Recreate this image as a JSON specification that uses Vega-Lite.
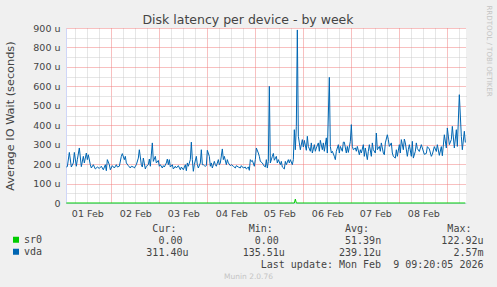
{
  "$schema": "https://vega.github.io/schema/vega-lite/v6.json",
  "background": "#f0f0f0",
  "autosize": {"type": "none"},
  "padding": {"left": 66, "top": 28, "right": 31, "bottom": 84},
  "width": 400,
  "height": 175,
  "view": {"fill": "#ffffff", "stroke": null},
  "config": {"font": "DejaVu Sans"},
  "title": {"text": "Disk latency per device - by week", "font": "DejaVu Sans", "fontSize": 12.5, "fontWeight": "normal", "color": "#444444", "anchor": "middle", "frame": "group", "dx": -18, "dy": 24.5, "offset": 3},
  "data": {"values": [
      {"time":"2026-02-01T01:30","device":"sr0","wait_us":0},
      {"time":"2026-02-05T19:30","device":"sr0","wait_us":0},
      {"time":"2026-02-05T20:00","device":"sr0","wait_us":20},
      {"time":"2026-02-05T20:30","device":"sr0","wait_us":0},
      {"time":"2026-02-09T09:00","device":"sr0","wait_us":0},
      {"time":"2026-02-01T01:30","device":"vda","wait_us":185},
      {"time":"2026-02-01T02:00","device":"vda","wait_us":187},
      {"time":"2026-02-01T03:00","device":"vda","wait_us":260},
      {"time":"2026-02-01T04:00","device":"vda","wait_us":185},
      {"time":"2026-02-01T05:00","device":"vda","wait_us":206},
      {"time":"2026-02-01T05:30","device":"vda","wait_us":260},
      {"time":"2026-02-01T06:30","device":"vda","wait_us":189},
      {"time":"2026-02-01T07:00","device":"vda","wait_us":223},
      {"time":"2026-02-01T08:00","device":"vda","wait_us":283},
      {"time":"2026-02-01T09:00","device":"vda","wait_us":187},
      {"time":"2026-02-01T10:00","device":"vda","wait_us":240},
      {"time":"2026-02-01T10:30","device":"vda","wait_us":206},
      {"time":"2026-02-01T11:30","device":"vda","wait_us":257},
      {"time":"2026-02-01T12:00","device":"vda","wait_us":223},
      {"time":"2026-02-01T12:30","device":"vda","wait_us":248},
      {"time":"2026-02-01T13:30","device":"vda","wait_us":197},
      {"time":"2026-02-01T14:00","device":"vda","wait_us":180},
      {"time":"2026-02-01T15:00","device":"vda","wait_us":197},
      {"time":"2026-02-01T16:00","device":"vda","wait_us":175},
      {"time":"2026-02-01T17:00","device":"vda","wait_us":185},
      {"time":"2026-02-01T18:00","device":"vda","wait_us":178},
      {"time":"2026-02-01T19:00","device":"vda","wait_us":189},
      {"time":"2026-02-01T20:00","device":"vda","wait_us":171},
      {"time":"2026-02-01T21:00","device":"vda","wait_us":197},
      {"time":"2026-02-01T21:30","device":"vda","wait_us":166},
      {"time":"2026-02-01T22:00","device":"vda","wait_us":223},
      {"time":"2026-02-01T23:00","device":"vda","wait_us":197},
      {"time":"2026-02-01T23:30","device":"vda","wait_us":171},
      {"time":"2026-02-02T00:30","device":"vda","wait_us":192},
      {"time":"2026-02-02T01:30","device":"vda","wait_us":180},
      {"time":"2026-02-02T02:30","device":"vda","wait_us":197},
      {"time":"2026-02-02T03:00","device":"vda","wait_us":185},
      {"time":"2026-02-02T04:00","device":"vda","wait_us":189},
      {"time":"2026-02-02T05:00","device":"vda","wait_us":240},
      {"time":"2026-02-02T05:30","device":"vda","wait_us":254},
      {"time":"2026-02-02T06:30","device":"vda","wait_us":223},
      {"time":"2026-02-02T07:00","device":"vda","wait_us":240},
      {"time":"2026-02-02T07:30","device":"vda","wait_us":206},
      {"time":"2026-02-02T08:30","device":"vda","wait_us":192},
      {"time":"2026-02-02T09:30","device":"vda","wait_us":180},
      {"time":"2026-02-02T10:00","device":"vda","wait_us":189},
      {"time":"2026-02-02T11:00","device":"vda","wait_us":185},
      {"time":"2026-02-02T11:30","device":"vda","wait_us":180},
      {"time":"2026-02-02T12:30","device":"vda","wait_us":197},
      {"time":"2026-02-02T13:30","device":"vda","wait_us":231},
      {"time":"2026-02-02T14:00","device":"vda","wait_us":274},
      {"time":"2026-02-02T15:00","device":"vda","wait_us":197},
      {"time":"2026-02-02T15:30","device":"vda","wait_us":185},
      {"time":"2026-02-02T16:00","device":"vda","wait_us":231},
      {"time":"2026-02-02T17:00","device":"vda","wait_us":175},
      {"time":"2026-02-02T17:30","device":"vda","wait_us":189},
      {"time":"2026-02-02T18:30","device":"vda","wait_us":197},
      {"time":"2026-02-02T19:00","device":"vda","wait_us":226},
      {"time":"2026-02-02T19:30","device":"vda","wait_us":189},
      {"time":"2026-02-02T20:30","device":"vda","wait_us":309},
      {"time":"2026-02-02T21:00","device":"vda","wait_us":214},
      {"time":"2026-02-02T22:00","device":"vda","wait_us":240},
      {"time":"2026-02-02T22:30","device":"vda","wait_us":206},
      {"time":"2026-02-02T23:30","device":"vda","wait_us":219},
      {"time":"2026-02-03T00:00","device":"vda","wait_us":189},
      {"time":"2026-02-03T00:30","device":"vda","wait_us":197},
      {"time":"2026-02-03T01:30","device":"vda","wait_us":180},
      {"time":"2026-02-03T02:00","device":"vda","wait_us":192},
      {"time":"2026-02-03T02:30","device":"vda","wait_us":185},
      {"time":"2026-02-03T03:30","device":"vda","wait_us":206},
      {"time":"2026-02-03T04:00","device":"vda","wait_us":226},
      {"time":"2026-02-03T04:30","device":"vda","wait_us":197},
      {"time":"2026-02-03T05:00","device":"vda","wait_us":223},
      {"time":"2026-02-03T05:30","device":"vda","wait_us":185},
      {"time":"2026-02-03T06:30","device":"vda","wait_us":197},
      {"time":"2026-02-03T07:00","device":"vda","wait_us":175},
      {"time":"2026-02-03T08:00","device":"vda","wait_us":189},
      {"time":"2026-02-03T08:30","device":"vda","wait_us":180},
      {"time":"2026-02-03T09:30","device":"vda","wait_us":192},
      {"time":"2026-02-03T10:30","device":"vda","wait_us":171},
      {"time":"2026-02-03T11:00","device":"vda","wait_us":185},
      {"time":"2026-02-03T12:00","device":"vda","wait_us":171},
      {"time":"2026-02-03T13:00","device":"vda","wait_us":197},
      {"time":"2026-02-03T13:30","device":"vda","wait_us":166},
      {"time":"2026-02-03T14:00","device":"vda","wait_us":206},
      {"time":"2026-02-03T14:30","device":"vda","wait_us":189},
      {"time":"2026-02-03T15:30","device":"vda","wait_us":223},
      {"time":"2026-02-03T16:00","device":"vda","wait_us":313},
      {"time":"2026-02-03T16:30","device":"vda","wait_us":223},
      {"time":"2026-02-03T17:00","device":"vda","wait_us":163},
      {"time":"2026-02-03T17:30","device":"vda","wait_us":197},
      {"time":"2026-02-03T18:30","device":"vda","wait_us":240},
      {"time":"2026-02-03T19:00","device":"vda","wait_us":197},
      {"time":"2026-02-03T19:30","device":"vda","wait_us":180},
      {"time":"2026-02-03T20:30","device":"vda","wait_us":206},
      {"time":"2026-02-03T21:00","device":"vda","wait_us":274},
      {"time":"2026-02-03T21:30","device":"vda","wait_us":197},
      {"time":"2026-02-03T22:00","device":"vda","wait_us":197},
      {"time":"2026-02-03T22:30","device":"vda","wait_us":192},
      {"time":"2026-02-03T23:00","device":"vda","wait_us":189},
      {"time":"2026-02-03T23:30","device":"vda","wait_us":192},
      {"time":"2026-02-04T00:00","device":"vda","wait_us":271},
      {"time":"2026-02-04T01:00","device":"vda","wait_us":240},
      {"time":"2026-02-04T01:30","device":"vda","wait_us":189},
      {"time":"2026-02-04T02:00","device":"vda","wait_us":206},
      {"time":"2026-02-04T02:30","device":"vda","wait_us":180},
      {"time":"2026-02-04T03:30","device":"vda","wait_us":214},
      {"time":"2026-02-04T04:00","device":"vda","wait_us":197},
      {"time":"2026-02-04T04:30","device":"vda","wait_us":189},
      {"time":"2026-02-04T05:30","device":"vda","wait_us":223},
      {"time":"2026-02-04T06:00","device":"vda","wait_us":197},
      {"time":"2026-02-04T06:30","device":"vda","wait_us":206},
      {"time":"2026-02-04T07:30","device":"vda","wait_us":278},
      {"time":"2026-02-04T08:00","device":"vda","wait_us":223},
      {"time":"2026-02-04T08:30","device":"vda","wait_us":240},
      {"time":"2026-02-04T09:30","device":"vda","wait_us":197},
      {"time":"2026-02-04T10:00","device":"vda","wait_us":223},
      {"time":"2026-02-04T10:30","device":"vda","wait_us":206},
      {"time":"2026-02-04T11:30","device":"vda","wait_us":192},
      {"time":"2026-02-04T12:00","device":"vda","wait_us":197},
      {"time":"2026-02-04T13:00","device":"vda","wait_us":189},
      {"time":"2026-02-04T14:00","device":"vda","wait_us":180},
      {"time":"2026-02-04T14:30","device":"vda","wait_us":192},
      {"time":"2026-02-04T15:30","device":"vda","wait_us":185},
      {"time":"2026-02-04T16:30","device":"vda","wait_us":180},
      {"time":"2026-02-04T17:00","device":"vda","wait_us":192},
      {"time":"2026-02-04T18:00","device":"vda","wait_us":180},
      {"time":"2026-02-04T19:00","device":"vda","wait_us":185},
      {"time":"2026-02-04T19:30","device":"vda","wait_us":175},
      {"time":"2026-02-04T20:30","device":"vda","wait_us":185},
      {"time":"2026-02-04T21:00","device":"vda","wait_us":168},
      {"time":"2026-02-04T21:30","device":"vda","wait_us":223},
      {"time":"2026-02-04T22:00","device":"vda","wait_us":214},
      {"time":"2026-02-04T22:30","device":"vda","wait_us":219},
      {"time":"2026-02-04T23:30","device":"vda","wait_us":189},
      {"time":"2026-02-05T00:00","device":"vda","wait_us":223},
      {"time":"2026-02-05T00:30","device":"vda","wait_us":283},
      {"time":"2026-02-05T01:30","device":"vda","wait_us":257},
      {"time":"2026-02-05T02:00","device":"vda","wait_us":240},
      {"time":"2026-02-05T02:30","device":"vda","wait_us":214},
      {"time":"2026-02-05T03:30","device":"vda","wait_us":206},
      {"time":"2026-02-05T04:00","device":"vda","wait_us":197},
      {"time":"2026-02-05T04:30","device":"vda","wait_us":189},
      {"time":"2026-02-05T05:00","device":"vda","wait_us":185},
      {"time":"2026-02-05T05:30","device":"vda","wait_us":223},
      {"time":"2026-02-05T06:00","device":"vda","wait_us":180},
      {"time":"2026-02-05T06:30","device":"vda","wait_us":214},
      {"time":"2026-02-05T07:00","device":"vda","wait_us":600},
      {"time":"2026-02-05T07:30","device":"vda","wait_us":206},
      {"time":"2026-02-05T08:30","device":"vda","wait_us":240},
      {"time":"2026-02-05T09:00","device":"vda","wait_us":255},
      {"time":"2026-02-05T09:30","device":"vda","wait_us":220},
      {"time":"2026-02-05T10:30","device":"vda","wait_us":240},
      {"time":"2026-02-05T11:00","device":"vda","wait_us":206},
      {"time":"2026-02-05T11:30","device":"vda","wait_us":223},
      {"time":"2026-02-05T12:30","device":"vda","wait_us":197},
      {"time":"2026-02-05T13:00","device":"vda","wait_us":214},
      {"time":"2026-02-05T13:30","device":"vda","wait_us":185},
      {"time":"2026-02-05T14:30","device":"vda","wait_us":175},
      {"time":"2026-02-05T15:00","device":"vda","wait_us":214},
      {"time":"2026-02-05T15:30","device":"vda","wait_us":197},
      {"time":"2026-02-05T16:30","device":"vda","wait_us":223},
      {"time":"2026-02-05T17:00","device":"vda","wait_us":206},
      {"time":"2026-02-05T17:30","device":"vda","wait_us":223},
      {"time":"2026-02-05T18:30","device":"vda","wait_us":197},
      {"time":"2026-02-05T19:00","device":"vda","wait_us":223},
      {"time":"2026-02-05T19:30","device":"vda","wait_us":377},
      {"time":"2026-02-05T20:00","device":"vda","wait_us":274},
      {"time":"2026-02-05T20:30","device":"vda","wait_us":394},
      {"time":"2026-02-05T21:00","device":"vda","wait_us":890},
      {"time":"2026-02-05T21:30","device":"vda","wait_us":343},
      {"time":"2026-02-05T22:00","device":"vda","wait_us":309},
      {"time":"2026-02-05T22:30","device":"vda","wait_us":274},
      {"time":"2026-02-05T23:30","device":"vda","wait_us":326},
      {"time":"2026-02-06T00:00","device":"vda","wait_us":288},
      {"time":"2026-02-06T00:30","device":"vda","wait_us":322},
      {"time":"2026-02-06T01:30","device":"vda","wait_us":271},
      {"time":"2026-02-06T02:00","device":"vda","wait_us":343},
      {"time":"2026-02-06T02:30","device":"vda","wait_us":291},
      {"time":"2026-02-06T03:30","device":"vda","wait_us":266},
      {"time":"2026-02-06T04:00","device":"vda","wait_us":309},
      {"time":"2026-02-06T04:30","device":"vda","wait_us":257},
      {"time":"2026-02-06T05:30","device":"vda","wait_us":300},
      {"time":"2026-02-06T06:00","device":"vda","wait_us":266},
      {"time":"2026-02-06T06:30","device":"vda","wait_us":283},
      {"time":"2026-02-06T07:30","device":"vda","wait_us":309},
      {"time":"2026-02-06T08:00","device":"vda","wait_us":266},
      {"time":"2026-02-06T08:30","device":"vda","wait_us":322},
      {"time":"2026-02-06T09:30","device":"vda","wait_us":274},
      {"time":"2026-02-06T10:00","device":"vda","wait_us":309},
      {"time":"2026-02-06T10:30","device":"vda","wait_us":266},
      {"time":"2026-02-06T11:30","device":"vda","wait_us":335},
      {"time":"2026-02-06T12:00","device":"vda","wait_us":257},
      {"time":"2026-02-06T13:00","device":"vda","wait_us":646},
      {"time":"2026-02-06T13:30","device":"vda","wait_us":291},
      {"time":"2026-02-06T14:00","device":"vda","wait_us":257},
      {"time":"2026-02-06T14:30","device":"vda","wait_us":266},
      {"time":"2026-02-06T15:30","device":"vda","wait_us":240},
      {"time":"2026-02-06T16:00","device":"vda","wait_us":223},
      {"time":"2026-02-06T16:30","device":"vda","wait_us":266},
      {"time":"2026-02-06T17:30","device":"vda","wait_us":300},
      {"time":"2026-02-06T18:00","device":"vda","wait_us":257},
      {"time":"2026-02-06T18:30","device":"vda","wait_us":291},
      {"time":"2026-02-06T19:30","device":"vda","wait_us":266},
      {"time":"2026-02-06T20:00","device":"vda","wait_us":313},
      {"time":"2026-02-06T20:30","device":"vda","wait_us":313},
      {"time":"2026-02-06T21:30","device":"vda","wait_us":257},
      {"time":"2026-02-06T22:00","device":"vda","wait_us":291},
      {"time":"2026-02-06T22:30","device":"vda","wait_us":260},
      {"time":"2026-02-06T23:30","device":"vda","wait_us":317},
      {"time":"2026-02-07T00:00","device":"vda","wait_us":403},
      {"time":"2026-02-07T00:30","device":"vda","wait_us":291},
      {"time":"2026-02-07T01:00","device":"vda","wait_us":274},
      {"time":"2026-02-07T02:00","device":"vda","wait_us":283},
      {"time":"2026-02-07T02:30","device":"vda","wait_us":266},
      {"time":"2026-02-07T03:00","device":"vda","wait_us":291},
      {"time":"2026-02-07T04:00","device":"vda","wait_us":248},
      {"time":"2026-02-07T04:30","device":"vda","wait_us":274},
      {"time":"2026-02-07T05:00","device":"vda","wait_us":257},
      {"time":"2026-02-07T06:00","device":"vda","wait_us":300},
      {"time":"2026-02-07T06:30","device":"vda","wait_us":240},
      {"time":"2026-02-07T07:00","device":"vda","wait_us":283},
      {"time":"2026-02-07T08:00","device":"vda","wait_us":223},
      {"time":"2026-02-07T08:30","device":"vda","wait_us":266},
      {"time":"2026-02-07T09:00","device":"vda","wait_us":300},
      {"time":"2026-02-07T10:00","device":"vda","wait_us":240},
      {"time":"2026-02-07T10:30","device":"vda","wait_us":309},
      {"time":"2026-02-07T11:00","device":"vda","wait_us":274},
      {"time":"2026-02-07T12:00","device":"vda","wait_us":257},
      {"time":"2026-02-07T12:30","device":"vda","wait_us":360},
      {"time":"2026-02-07T13:00","device":"vda","wait_us":274},
      {"time":"2026-02-07T14:00","device":"vda","wait_us":291},
      {"time":"2026-02-07T14:30","device":"vda","wait_us":266},
      {"time":"2026-02-07T15:00","device":"vda","wait_us":309},
      {"time":"2026-02-07T16:00","device":"vda","wait_us":257},
      {"time":"2026-02-07T16:30","device":"vda","wait_us":248},
      {"time":"2026-02-07T17:00","device":"vda","wait_us":309},
      {"time":"2026-02-07T18:00","device":"vda","wait_us":351},
      {"time":"2026-02-07T18:30","device":"vda","wait_us":326},
      {"time":"2026-02-07T19:00","device":"vda","wait_us":291},
      {"time":"2026-02-07T20:00","device":"vda","wait_us":309},
      {"time":"2026-02-07T20:30","device":"vda","wait_us":257},
      {"time":"2026-02-07T21:00","device":"vda","wait_us":240},
      {"time":"2026-02-07T22:00","device":"vda","wait_us":231},
      {"time":"2026-02-07T22:30","device":"vda","wait_us":274},
      {"time":"2026-02-07T23:00","device":"vda","wait_us":240},
      {"time":"2026-02-08T00:00","device":"vda","wait_us":300},
      {"time":"2026-02-08T00:30","device":"vda","wait_us":257},
      {"time":"2026-02-08T01:00","device":"vda","wait_us":326},
      {"time":"2026-02-08T02:00","device":"vda","wait_us":274},
      {"time":"2026-02-08T02:30","device":"vda","wait_us":329},
      {"time":"2026-02-08T03:00","device":"vda","wait_us":309},
      {"time":"2026-02-08T04:00","device":"vda","wait_us":240},
      {"time":"2026-02-08T04:30","device":"vda","wait_us":274},
      {"time":"2026-02-08T05:00","device":"vda","wait_us":300},
      {"time":"2026-02-08T06:00","device":"vda","wait_us":240},
      {"time":"2026-02-08T06:30","device":"vda","wait_us":317},
      {"time":"2026-02-08T07:00","device":"vda","wait_us":231},
      {"time":"2026-02-08T08:00","device":"vda","wait_us":266},
      {"time":"2026-02-08T08:30","device":"vda","wait_us":309},
      {"time":"2026-02-08T09:00","device":"vda","wait_us":280},
      {"time":"2026-02-08T10:00","device":"vda","wait_us":265},
      {"time":"2026-02-08T11:00","device":"vda","wait_us":300},
      {"time":"2026-02-08T11:30","device":"vda","wait_us":283},
      {"time":"2026-02-08T12:30","device":"vda","wait_us":250},
      {"time":"2026-02-08T13:30","device":"vda","wait_us":255},
      {"time":"2026-02-08T14:00","device":"vda","wait_us":290},
      {"time":"2026-02-08T15:00","device":"vda","wait_us":278},
      {"time":"2026-02-08T16:00","device":"vda","wait_us":240},
      {"time":"2026-02-08T16:30","device":"vda","wait_us":250},
      {"time":"2026-02-08T17:30","device":"vda","wait_us":290},
      {"time":"2026-02-08T18:30","device":"vda","wait_us":265},
      {"time":"2026-02-08T19:00","device":"vda","wait_us":300},
      {"time":"2026-02-08T20:00","device":"vda","wait_us":245},
      {"time":"2026-02-08T21:00","device":"vda","wait_us":290},
      {"time":"2026-02-08T21:30","device":"vda","wait_us":243},
      {"time":"2026-02-08T22:30","device":"vda","wait_us":351},
      {"time":"2026-02-08T23:30","device":"vda","wait_us":283},
      {"time":"2026-02-09T00:00","device":"vda","wait_us":386},
      {"time":"2026-02-09T01:00","device":"vda","wait_us":300},
      {"time":"2026-02-09T02:00","device":"vda","wait_us":326},
      {"time":"2026-02-09T02:30","device":"vda","wait_us":394},
      {"time":"2026-02-09T03:30","device":"vda","wait_us":283},
      {"time":"2026-02-09T04:30","device":"vda","wait_us":377},
      {"time":"2026-02-09T05:00","device":"vda","wait_us":291},
      {"time":"2026-02-09T06:00","device":"vda","wait_us":557},
      {"time":"2026-02-09T07:00","device":"vda","wait_us":343},
      {"time":"2026-02-09T07:30","device":"vda","wait_us":274},
      {"time":"2026-02-09T08:30","device":"vda","wait_us":369},
      {"time":"2026-02-09T09:00","device":"vda","wait_us":311}
  ]},
  "layer": [
    {
      "transform": [{"filter": "datum.device === 'sr0'"}],
      "mark": {"type": "line", "strokeWidth": 1},
      "encoding": {
        "x": {"field": "time", "type": "temporal",
          "scale": {"domain": [{"year": 2026, "month": 2, "date": 1, "hours": 1, "minutes": 20}, {"year": 2026, "month": 2, "date": 9, "hours": 9, "minutes": 20}]},
          "axis": {"orient": "bottom", "labels": false, "ticks": false, "domain": false, "grid": true, "gridColor": "#cccccc", "gridDash": [1, 1],
            "values": [
              {"year": 2026, "month": 2, "date": 1, "hours": 6}, {"year": 2026, "month": 2, "date": 1, "hours": 12}, {"year": 2026, "month": 2, "date": 1, "hours": 18},
              {"year": 2026, "month": 2, "date": 2, "hours": 6}, {"year": 2026, "month": 2, "date": 2, "hours": 12}, {"year": 2026, "month": 2, "date": 2, "hours": 18},
              {"year": 2026, "month": 2, "date": 3, "hours": 6}, {"year": 2026, "month": 2, "date": 3, "hours": 12}, {"year": 2026, "month": 2, "date": 3, "hours": 18},
              {"year": 2026, "month": 2, "date": 4, "hours": 6}, {"year": 2026, "month": 2, "date": 4, "hours": 12}, {"year": 2026, "month": 2, "date": 4, "hours": 18},
              {"year": 2026, "month": 2, "date": 5, "hours": 6}, {"year": 2026, "month": 2, "date": 5, "hours": 12}, {"year": 2026, "month": 2, "date": 5, "hours": 18},
              {"year": 2026, "month": 2, "date": 6, "hours": 6}, {"year": 2026, "month": 2, "date": 6, "hours": 12}, {"year": 2026, "month": 2, "date": 6, "hours": 18},
              {"year": 2026, "month": 2, "date": 7, "hours": 6}, {"year": 2026, "month": 2, "date": 7, "hours": 12}, {"year": 2026, "month": 2, "date": 7, "hours": 18},
              {"year": 2026, "month": 2, "date": 8, "hours": 6}, {"year": 2026, "month": 2, "date": 8, "hours": 12}, {"year": 2026, "month": 2, "date": 8, "hours": 18},
              {"year": 2026, "month": 2, "date": 9, "hours": 6}],
            "title": "Munin 2.0.76", "titleFont": "DejaVu Sans", "titleFontSize": 7.5, "titleFontWeight": "normal", "titleColor": "#c4c4c4", "titleAlign": "center", "titleBaseline": "middle", "titleX": 182, "titleY": 73}},
        "y": {"field": "wait_us", "type": "quantitative",
          "scale": {"domain": [0, 900], "nice": false},
          "axis": {"orient": "right", "labels": false, "ticks": false, "domain": false, "grid": true, "gridColor": "#cccccc", "gridDash": [1, 1], "values": [50, 150, 250, 350, 450, 550, 650, 750, 850],
            "title": "RRDTOOL / TOBI OETIKER", "titleFont": "DejaVu Sans", "titleFontSize": 7.1, "titleFontWeight": "normal", "titleColor": "#c4c4c4", "titleAngle": 90, "titleAlign": "center", "titleBaseline": "middle", "titleX": 22, "titleY": 22.6}},
        "color": {"field": "device", "type": "nominal",
          "scale": {"domain": ["sr0", "vda"], "range": ["#00cc00", "#0066b3"]},
          "legend": {"orient": "none", "legendX": -55, "legendY": 206, "title": null, "symbolType": "square", "symbolSize": 9, "symbolStrokeWidth": 3, "labelFont": "DejaVu Sans Mono", "labelFontSize": 10, "labelColor": "#444444", "labelOffset": 3, "rowPadding": 0, "clipHeight": 11.7, "padding": 0}}
      }
    },
    {
      "transform": [{"filter": "datum.device === 'vda'"}],
      "mark": {"type": "line", "strokeWidth": 1},
      "encoding": {
        "x": {"field": "time", "type": "temporal",
          "scale": {"domain": [{"year": 2026, "month": 2, "date": 1, "hours": 1, "minutes": 20}, {"year": 2026, "month": 2, "date": 9, "hours": 9, "minutes": 20}]},
          "axis": {"orient": "bottom",
            "title": ["Cur:\u00a0\u00a0\u00a0\u00a0\u00a0\u00a0\u00a0\u00a0\u00a0\u00a0\u00a0\u00a0Min:\u00a0\u00a0\u00a0\u00a0\u00a0\u00a0\u00a0\u00a0\u00a0\u00a0\u00a0\u00a0Avg:\u00a0\u00a0\u00a0\u00a0\u00a0\u00a0\u00a0\u00a0\u00a0\u00a0\u00a0\u00a0\u00a0Max:\u00a0\u00a0\u200b",
                      "0.00\u00a0\u00a0\u00a0\u00a0\u00a0\u00a0\u00a0\u00a0\u00a0\u00a0\u00a0\u00a00.00\u00a0\u00a0\u00a0\u00a0\u00a0\u00a0\u00a0\u00a0\u00a0\u00a0\u00a051.39n\u00a0\u00a0\u00a0\u00a0\u00a0\u00a0\u00a0\u00a0\u00a0\u00a0122.92u",
                      "311.40u\u00a0\u00a0\u00a0\u00a0\u00a0\u00a0\u00a0\u00a0\u00a0135.51u\u00a0\u00a0\u00a0\u00a0\u00a0\u00a0\u00a0\u00a0\u00a0239.12u\u00a0\u00a0\u00a0\u00a0\u00a0\u00a0\u00a0\u00a0\u00a0\u00a0\u00a0\u00a02.57m",
                      "Last update: Mon Feb\u00a0\u00a09 09:20:05 2026"],
            "titleFont": "DejaVu Sans Mono", "titleFontSize": 10, "titleFontWeight": "normal", "titleColor": "#444444", "titleAlign": "right", "titleBaseline": "top", "titleX": 417, "titleY": 20, "titleLineHeight": 12,
            "grid": true, "gridColor": "#f08080", "gridDash": [1, 1], "tickCount": {"interval": "day", "step": 1}, "ticks": false, "domain": true, "domainColor": "#cfd6f8", "labelExpr": "timeFormat(datum.value - 86400000, '%d %b')", "labelOffset": -24, "labelFont": "DejaVu Sans", "labelFontSize": 9.5, "labelColor": "#444444", "labelPadding": 5, "labelOverlap": false, "labelBound": false, "labelFlush": false}},
        "y": {"field": "wait_us", "type": "quantitative",
          "scale": {"domain": [0, 900], "nice": false},
          "axis": {"orient": "left", "title": "Average IO Wait (seconds)", "values": [0, 100, 200, 300, 400, 500, 600, 700, 800, 900], "grid": true, "gridColor": "#f08080", "gridDash": [1, 1], "ticks": false, "domain": true, "domainColor": "#cfd6f8", "labelExpr": "datum.value === 0 ? '0' : datum.value + ' u'", "labelFont": "DejaVu Sans", "labelFontSize": 9.5, "labelColor": "#444444", "labelPadding": 6, "titleFont": "DejaVu Sans", "titleFontSize": 11.3, "titleFontWeight": "normal", "titleColor": "#444444", "titleX": -56, "titleBaseline": "middle"}},
        "color": {"field": "device", "type": "nominal",
          "scale": {"domain": ["sr0", "vda"], "range": ["#00cc00", "#0066b3"]},
          "legend": {"orient": "none", "legendX": -55, "legendY": 206, "title": null, "symbolType": "square", "symbolSize": 9, "symbolStrokeWidth": 3, "labelFont": "DejaVu Sans Mono", "labelFontSize": 10, "labelColor": "#444444", "labelOffset": 3, "rowPadding": 0, "clipHeight": 11.7, "padding": 0}}
      }
    }
  ],
  "resolve": {"axis": {"x": "independent", "y": "independent"}}
}
